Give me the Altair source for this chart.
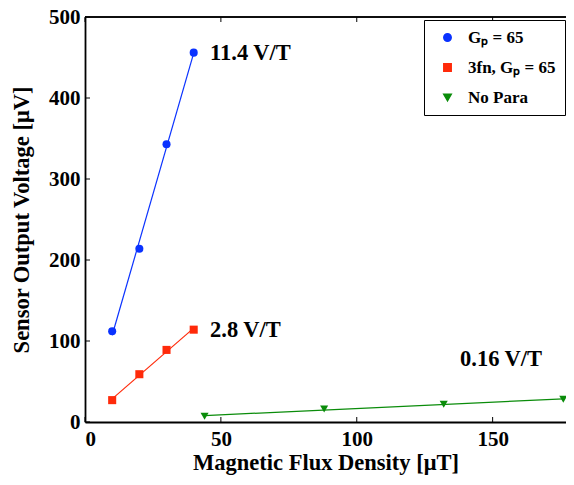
import altair as alt
import pandas as pd

# ---- data ----
series_names = ["Gₚ = 65", "3fn, Gₚ = 65", "No Para"]
colors = ["#0a32ff", "#ff2a0a", "#0a8c0a"]
shapes = ["circle", "square", "triangle-down"]

gp_x = [10, 20, 30, 40]
gp_y = [112, 214, 343, 456]
fn_x = [10, 20, 30, 40]
fn_y = [27, 59, 89, 114]
np_x = [44, 88, 132, 176]
np_y = [7, 16, 22, 28]

ann_text = ["11.4 V/T", "2.8 V/T", "0.16 V/T"]
ann_x = [46, 46, 138]
ann_y = [456, 114, 78]

x_ticks = [0, 50, 100, 150]
y_ticks = [0, 100, 200, 300, 400, 500]

rows = []
for name, xs, ys in [(series_names[0], gp_x, gp_y),
                     (series_names[1], fn_x, fn_y),
                     (series_names[2], np_x, np_y)]:
    for a, b in zip(xs, ys):
        rows.append({"series": name, "B": a, "V": b})
df = pd.DataFrame(rows)
ann = pd.DataFrame({"text": ann_text, "x": ann_x, "y": ann_y})
xt = pd.DataFrame({"t": x_ticks})
yt = pd.DataFrame({"t": y_ticks})

FONT = "Liberation Serif"
W, H = 481, 405

xscale = alt.Scale(domain=[0, 177], nice=False, zero=False)
yscale = alt.Scale(domain=[0, 500], nice=False)

axis_style = dict(labelFont=FONT, labelFontSize=21, labelFontWeight="bold", labelColor="black",
                  titleFont=FONT, titleFontSize=22.5, titleFontWeight="bold", titleColor="black",
                  domainColor="black", domainWidth=1.8, ticks=False, grid=False)

xaxis = alt.Axis(title="Magnetic Flux Density [μT]", values=x_ticks,
                 labelPadding=6, titlePadding=2, **axis_style)
yaxis = alt.Axis(title="Sensor Output Voltage [μV]", values=y_ticks,
                 labelPadding=5, titlePadding=15, **axis_style)

base = alt.Chart(df)

lines = base.transform_regression("B", "V", groupby=["series"]).mark_line(strokeWidth=1.2).encode(
    x=alt.X("B:Q", scale=xscale, axis=xaxis),
    y=alt.Y("V:Q", scale=yscale, axis=yaxis),
    stroke=alt.Stroke("series:N", scale=alt.Scale(domain=series_names, range=colors), legend=None),
)

points = base.mark_point(filled=True, opacity=1, size=65).encode(
    x=alt.X("B:Q", scale=xscale),
    y=alt.Y("V:Q", scale=yscale),
    color=alt.Color("series:N", scale=alt.Scale(domain=series_names, range=colors),
                    legend=alt.Legend(title=None, orient="none", legendX=339, legendY=3,
                                      strokeColor="black", fillColor="white",
                                      padding=9, rowPadding=12, symbolSize=55,
                                      labelFont=FONT, labelFontSize=17, labelFontWeight="bold",
                                      labelColor="black", symbolOffset=6, labelOffset=12,
                                      labelLimit=200)),
    shape=alt.Shape("series:N", scale=alt.Scale(domain=series_names, range=shapes)),
)

texts = alt.Chart(ann).mark_text(align="left", baseline="middle", font=FONT,
                                 fontSize=22.5, fontWeight="bold", color="black").encode(
    x=alt.X("x:Q", scale=xscale),
    y=alt.Y("y:Q", scale=yscale),
    text="text:N",
)

# inward tick marks and top border (box style)
bot_ticks = alt.Chart(xt).mark_rule(color="black", strokeWidth=1).encode(
    x=alt.X("t:Q", scale=xscale), y=alt.value(H), y2=alt.value(H - 5))
top_ticks = alt.Chart(xt).mark_rule(color="black", strokeWidth=1).encode(
    x=alt.X("t:Q", scale=xscale), y=alt.value(0), y2=alt.value(5))
left_ticks = alt.Chart(yt).mark_rule(color="black", strokeWidth=1).encode(
    y=alt.Y("t:Q", scale=yscale), x=alt.value(0), x2=alt.value(5))
top_border = alt.Chart(xt).mark_rule(color="black", strokeWidth=1.2).encode(
    x=alt.value(0), x2=alt.value(W), y=alt.value(0))

chart = alt.layer(points, lines, texts, bot_ticks, top_ticks, left_ticks, top_border).properties(
    width=W, height=H,
    background="white",
    autosize=alt.AutoSizeParams(type="none"),
    padding={"left": 77, "top": 9, "right": 0, "bottom": 55},
).configure_view(stroke=None)

chart.save("out.html", embed_options={"renderer": "svg", "actions": False})
